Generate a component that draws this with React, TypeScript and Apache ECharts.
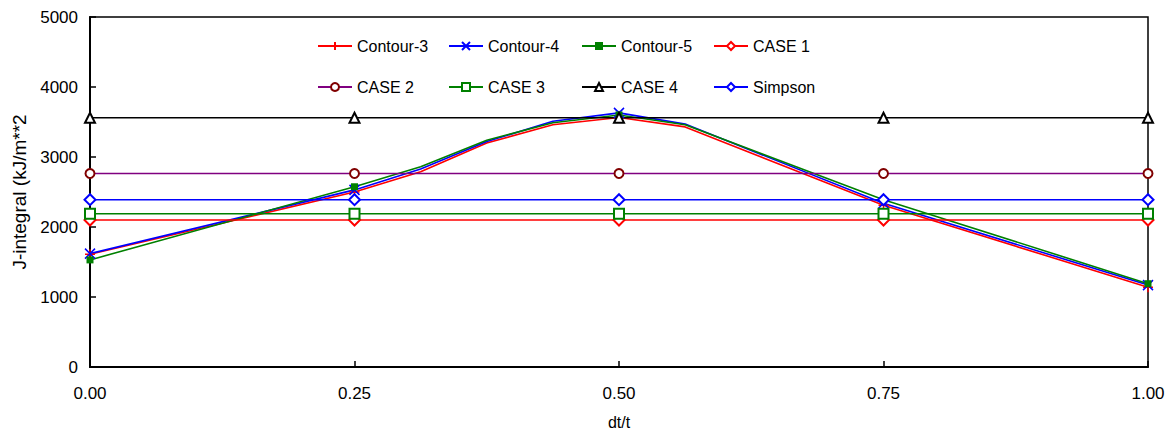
import React, { useEffect, useRef } from "react";
import * as echarts from "echarts";

const contourX = [0, 0.25, 0.3125, 0.375, 0.4375, 0.5, 0.5625, 0.75, 1.0];
const contour3 = [1610, 2500, 2790, 3200, 3460, 3565, 3430, 2310, 1140];
const contour4 = [1620, 2530, 2830, 3220, 3510, 3630, 3470, 2340, 1170];
const contour5 = [1530, 2575, 2860, 3240, 3490, 3600, 3460, 2390, 1190];

const caseX = [0, 0.25, 0.5, 0.75, 1.0];
const case1 = [2100, 2100, 2100, 2100, 2100];
const case2 = [2765, 2765, 2765, 2765, 2765];
const case3 = [2190, 2190, 2190, 2190, 2190];
const case4 = [3560, 3560, 3560, 3560, 3560];
const simpson = [2390, 2390, 2390, 2390, 2390];

const xTicks = [0, 0.25, 0.5, 0.75, 1.0];
const seriesNames = ["Contour-3", "Contour-4", "Contour-5", "CASE 1", "CASE 2", "CASE 3", "CASE 4", "Simpson"];

const FONT = "Liberation Sans, Arial, sans-serif";
const PLUS = "path://M5,0L5,10M0,5L10,5";
const CROSS = "path://M0,0L10,10M10,0L0,10";

function contourData(ys: number[]) {
  return contourX.map((x, i) => {
    const onTick = xTicks.indexOf(x) >= 0;
    return onTick ? { value: [x, ys[i]] } : { value: [x, ys[i]], symbol: "none" };
  });
}
function caseData(ys: number[]) {
  return caseX.map((x, i) => [x, ys[i]]);
}

export default function App() {
  const ref = useRef<HTMLDivElement>(null);
  useEffect(() => {
    if (!ref.current) return;
    const chart = echarts.init(ref.current, undefined, { renderer: "svg" });
    const lineSeries = (
      name: string,
      data: any[],
      lineColor: string,
      markColor: string,
      symbol: string,
      size: number,
      border: number
    ) => ({
      name,
      type: "line",
      data,
      symbol,
      symbolSize: size,
      showAllSymbol: true,
      lineStyle: { color: lineColor, width: 1.6 },
      itemStyle: { color: markColor, borderColor: markColor, borderWidth: border },
      emphasis: { disabled: true },
    });
    const legendLeft = [317, 448, 581, 713];
    const legendTop = [38, 79];
    const legends = seriesNames.map((n, i) => ({
      data: [n],
      left: legendLeft[i % 4],
      top: legendTop[Math.floor(i / 4)],
      itemWidth: 34,
      itemHeight: 10,
      itemGap: 0,
      selectedMode: false,
      padding: 0,
      textStyle: { fontFamily: FONT, fontSize: 16, color: "#000", padding: [0, 0, 0, 0] },
    }));
    chart.setOption({
      animation: false,
      backgroundColor: "#fff",
      legend: legends,
      grid: {
        left: 90,
        right: 21,
        top: 17,
        bottom: 76,
        show: true,
        borderColor: "#000",
        borderWidth: 1.5,
      },
      xAxis: {
        type: "value",
        min: 0,
        max: 1,
        interval: 0.25,
        name: "dt/t",
        nameLocation: "middle",
        nameGap: 47,
        nameTextStyle: { fontFamily: FONT, fontSize: 16, color: "#000" },
        axisLine: { lineStyle: { color: "#000", width: 2 } },
        axisTick: { show: true, inside: true, length: 6, lineStyle: { color: "#000", width: 1.5 } },
        axisLabel: {
          fontFamily: FONT,
          fontSize: 17,
          color: "#000",
          margin: 18,
          formatter: (v: number) => v.toFixed(2),
        },
        splitLine: { show: false },
      },
      yAxis: {
        type: "value",
        min: 0,
        max: 5000,
        interval: 1000,
        name: "J-integral (kJ/m**2",
        nameLocation: "middle",
        nameGap: 52,
        nameTextStyle: { fontFamily: FONT, fontSize: 19, color: "#000" },
        axisLine: { show: true, lineStyle: { color: "#000", width: 2 } },
        axisTick: { show: true, inside: true, length: 6, lineStyle: { color: "#000", width: 1.5 } },
        axisLabel: {
          fontFamily: FONT,
          fontSize: 17,
          color: "#000",
          margin: 12,
          formatter: (v: number) => String(v),
        },
        splitLine: { show: false },
      },
      series: [
        lineSeries("Contour-3", contourData(contour3), "#ff0000", "#ff0000", PLUS, 10, 1.5),
        lineSeries("Contour-4", contourData(contour4), "#0000ff", "#0000ff", CROSS, 10, 1.5),
        lineSeries("Contour-5", contourData(contour5), "#008000", "#008000", "rect", 7, 0),
        lineSeries("CASE 1", caseData(case1), "#ff0000", "#ff0000", "emptyDiamond", 11, 1.5),
        lineSeries("CASE 2", caseData(case2), "#800080", "#800000", "emptyCircle", 9, 1.5),
        lineSeries("CASE 3", caseData(case3), "#008000", "#008000", "emptyRect", 10, 1.5),
        lineSeries("CASE 4", caseData(case4), "#000000", "#000000", "emptyTriangle", 10, 1.5),
        lineSeries("Simpson", caseData(simpson), "#0000ff", "#0000ff", "emptyDiamond", 11, 1.5),
      ],
    });
    return () => chart.dispose();
  }, []);
  return (
    <div
      ref={ref}
      style={{ position: "absolute", left: 0, top: 0, width: 1169, height: 443 }}
    />
  );
}
